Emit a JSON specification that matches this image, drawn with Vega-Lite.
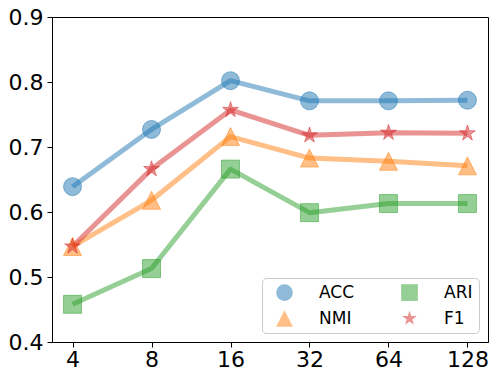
{
  "$schema": "https://vega.github.io/schema/vega-lite/v6.json",
  "width": 436,
  "height": 325,
  "autosize": {"type": "none"},
  "padding": {"left": 52, "top": 17, "right": 10, "bottom": 39},
  "background": "white",
  "config": {
    "view": {"stroke": "black", "strokeWidth": 1},
    "font": "DejaVu Sans",
    "axis": {
      "grid": false,
      "domainColor": "black",
      "domainWidth": 1,
      "tickColor": "black",
      "tickSize": 5,
      "tickWidth": 1,
      "labelFont": "DejaVu Sans",
      "labelFontSize": 22,
      "labelColor": "black"
    }
  },
  "data": {
    "values": [
      {"dim": "4", "metric": "ACC", "value": 0.639},
      {"dim": "8", "metric": "ACC", "value": 0.727},
      {"dim": "16", "metric": "ACC", "value": 0.802},
      {"dim": "32", "metric": "ACC", "value": 0.771},
      {"dim": "64", "metric": "ACC", "value": 0.771},
      {"dim": "128", "metric": "ACC", "value": 0.772},
      {"dim": "4", "metric": "NMI", "value": 0.547},
      {"dim": "8", "metric": "NMI", "value": 0.618},
      {"dim": "16", "metric": "NMI", "value": 0.716},
      {"dim": "32", "metric": "NMI", "value": 0.683},
      {"dim": "64", "metric": "NMI", "value": 0.678},
      {"dim": "128", "metric": "NMI", "value": 0.671},
      {"dim": "4", "metric": "ARI", "value": 0.458},
      {"dim": "8", "metric": "ARI", "value": 0.513},
      {"dim": "16", "metric": "ARI", "value": 0.666},
      {"dim": "32", "metric": "ARI", "value": 0.599},
      {"dim": "64", "metric": "ARI", "value": 0.613},
      {"dim": "128", "metric": "ARI", "value": 0.613},
      {"dim": "4", "metric": "F1", "value": 0.547},
      {"dim": "8", "metric": "F1", "value": 0.666},
      {"dim": "16", "metric": "F1", "value": 0.757},
      {"dim": "32", "metric": "F1", "value": 0.718},
      {"dim": "64", "metric": "F1", "value": 0.722},
      {"dim": "128", "metric": "F1", "value": 0.721}
    ]
  },
  "encoding": {
    "x": {
      "field": "dim",
      "type": "ordinal",
      "sort": ["4", "8", "16", "32", "64", "128"],
      "scale": {"type": "point", "padding": 0.26},
      "axis": {"title": null, "labelAngle": 0, "labelPadding": 2}
    },
    "y": {
      "field": "value",
      "type": "quantitative",
      "scale": {"domain": [0.4, 0.9], "nice": false, "zero": false},
      "axis": {"title": null, "values": [0.4, 0.5, 0.6, 0.7, 0.8, 0.9], "format": ".1f", "labelPadding": 4}
    },
    "color": {
      "field": "metric",
      "type": "nominal",
      "scale": {"domain": ["ACC", "NMI", "ARI", "F1"], "range": ["#1f77b4", "#ff7f0e", "#2ca02c", "#d62728"]},
      "legend": {
        "title": null,
        "orient": "bottom-right",
        "offset": 9,
        "columns": 2,
        "padding": 6,
        "symbolOffset": 8,
        "columnPadding": 38,
        "rowPadding": 8,
        "labelOffset": 26,
        "labelFont": "DejaVu Sans",
        "labelFontSize": 17,
        "labelColor": "black",
        "symbolSize": 280,
        "symbolOpacity": 0.5,
        "symbolStrokeWidth": 0,
        "strokeColor": "#cccccc",
        "fillColor": "white",
        "cornerRadius": 4
      }
    }
  },
  "layer": [
    {
      "mark": {"type": "line", "strokeWidth": 5, "opacity": 0.5, "strokeJoin": "round"},
      "encoding": {}
    },
    {
      "mark": {"type": "point", "filled": true, "size": 324, "fillOpacity": 0.5, "strokeOpacity": 0.5, "strokeWidth": 1},
      "encoding": {
        "shape": {
          "field": "metric",
          "type": "nominal",
          "scale": {
            "domain": ["ACC", "NMI", "ARI", "F1"],
            "range": [
              "circle",
              "M0,-1L1,1L-1,1Z",
              "square",
              "M0,-0.92L0.2065,-0.2843L0.875,-0.2843L0.3342,0.1086L0.5408,0.7443L0,0.3514L-0.5408,0.7443L-0.3342,0.1086L-0.875,-0.2843L-0.2065,-0.2843Z"
            ]
          }
        },
        "stroke": {
          "field": "metric",
          "type": "nominal",
          "scale": {"domain": ["ACC", "NMI", "ARI", "F1"], "range": ["#1f77b4", "#ff7f0e", "#2ca02c", "#d62728"]},
          "legend": null
        }
      }
    }
  ]
}
